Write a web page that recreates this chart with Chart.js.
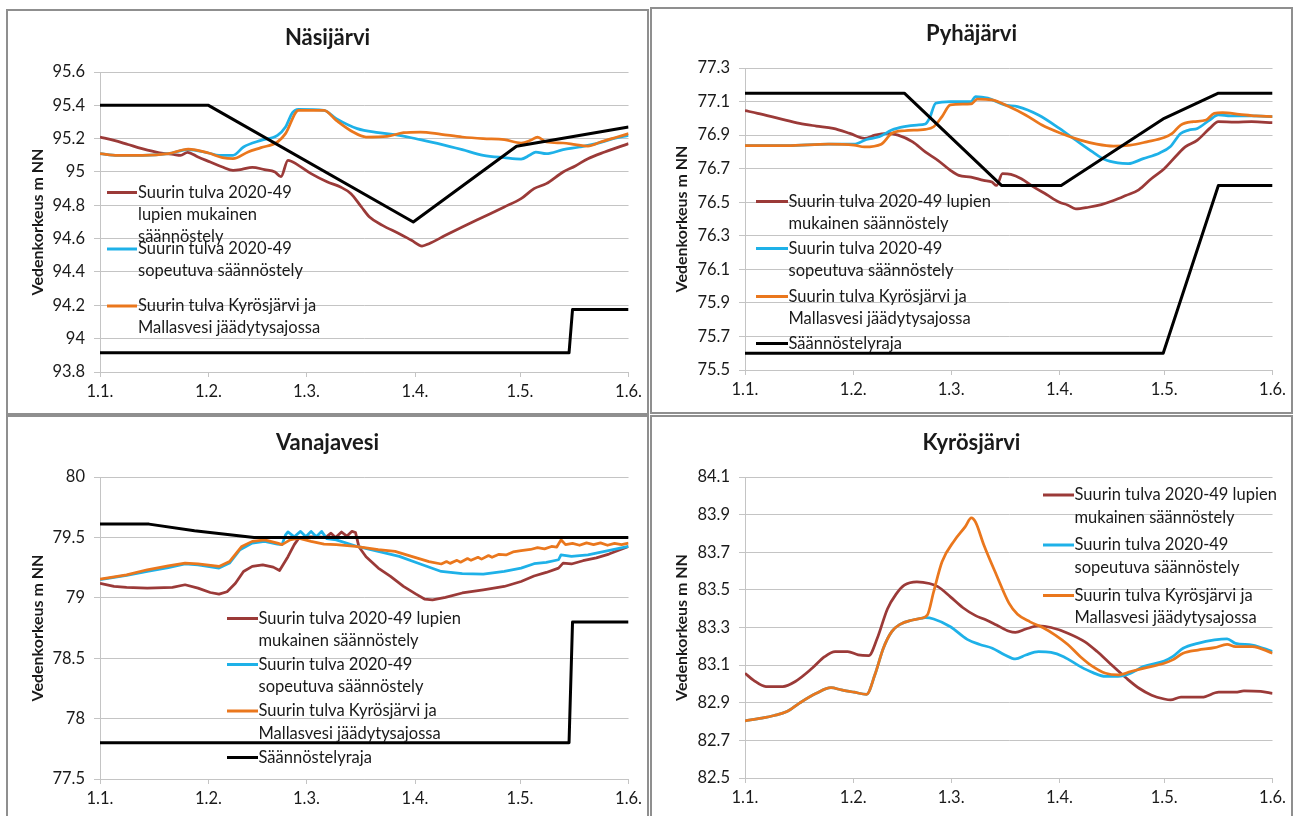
<!DOCTYPE html>
<html>
<head>
<meta charset="utf-8">
<script src="https://cdn.jsdelivr.net/npm/chart.js@4.4.1/dist/chart.umd.min.js"></script>
<style>
  html, body { margin: 0; padding: 0; background: #fff; width: 1298px; height: 816px; overflow: hidden; }
  .panel { position: absolute; box-sizing: border-box; border: 2px solid #8f8f8f; background: #fff; overflow: hidden; }
  .panel canvas { display: block; }
</style>
</head>
<body>
<div class="panel" style="left:6px;top:9px;width:643px;height:406px"><canvas id="c1" width="639" height="402"></canvas></div>
<div class="panel" style="left:650px;top:7px;width:643px;height:407px"><canvas id="c2" width="639" height="403"></canvas></div>
<div class="panel" style="left:6px;top:415px;width:643px;height:420px"><canvas id="c3" width="639" height="416"></canvas></div>
<div class="panel" style="left:650px;top:415px;width:643px;height:420px"><canvas id="c4" width="639" height="416"></canvas></div>
<script>
// Day of year (0 = 1 January) and water level (m NN)
const monthDays = [0, 31, 59, 90, 120, 151];
const monthLabels = ['1.1.', '1.2.', '1.3.', '1.4.', '1.5.', '1.6.'];

// Näsijärvi
const nasiTitle = 'Näsijärvi';
const nasiYTicks = [93.8, 94, 94.2, 94.4, 94.6, 94.8, 95, 95.2, 95.4, 95.6];
const nasiLupien = [[0,95.21],[4,95.19],[8,95.165],[12,95.14],[17,95.115],[21,95.105],[23,95.1],[25,95.118],[28,95.09],[31.5,95.06],[35,95.03],[38,95.01],[40.5,95.016],[43.5,95.028],[47,95.014],[50,95.0],[51.7,94.972],[53.7,95.07],[56.7,95.04],[60.3,94.99],[65,94.94],[68.7,94.91],[71.7,94.87],[74.7,94.79],[77,94.73],[80.7,94.68],[85.5,94.63],[89,94.59],[92,94.556],[94,94.57],[98.7,94.62],[103.5,94.67],[109.5,94.73],[115.5,94.79],[120.3,94.84],[124,94.9],[127.5,94.93],[132.3,95.0],[135.8,95.036],[139.4,95.08],[144.2,95.12],[151,95.17]];
const nasiSopeutuva = [[0,95.11],[5,95.1],[12,95.1],[19.5,95.11],[25.2,95.135],[31,95.114],[34,95.1],[38,95.1],[41,95.15],[46,95.19],[50.7,95.22],[53,95.27],[55,95.356],[56.7,95.376],[64,95.37],[67.5,95.32],[73.5,95.26],[79.5,95.236],[85.5,95.22],[91.5,95.194],[97.5,95.166],[103.5,95.134],[109.5,95.1],[115.5,95.086],[120.3,95.078],[122.7,95.1],[124.5,95.12],[127.5,95.11],[132.3,95.134],[137,95.15],[141.8,95.17],[146.6,95.2],[151,95.22]];
const nasiJaadytys = [[0,95.11],[5,95.1],[12.4,95.1],[19.5,95.11],[25.2,95.138],[31,95.114],[35,95.086],[38,95.08],[42.3,95.12],[46,95.146],[50.7,95.18],[53,95.23],[56.7,95.37],[64,95.37],[67.5,95.31],[72.3,95.24],[76,95.21],[82,95.214],[86.7,95.236],[91.5,95.24],[97.5,95.226],[103.5,95.21],[109.5,95.2],[115.5,95.194],[120.3,95.174],[123,95.19],[125,95.21],[127.5,95.18],[132.3,95.174],[135.8,95.164],[139.4,95.156],[143,95.18],[147.8,95.21],[151,95.23]];
const nasiUpperLimit = [[0,95.4],[31,95.4],[89.5,94.7],[119,95.155],[151,95.27]];
const nasiLowerLimit = [[0,93.915],[134,93.915],[135,94.175],[151,94.175]];

// Pyhäjärvi
const pyhaTitle = 'Pyhäjärvi';
const pyhaYTicks = [75.5, 75.7, 75.9, 76.1, 76.3, 76.5, 76.7, 76.9, 77.1, 77.3];
const pyhaLupien = [[0,77.046],[3.6,77.03],[9.6,77.0],[15.6,76.97],[20.4,76.954],[25.2,76.94],[30,76.91],[34.2,76.88],[37.2,76.9],[40.8,76.91],[43.8,76.9],[48,76.86],[51.6,76.8],[55.2,76.75],[58.8,76.69],[61.2,76.66],[64.7,76.65],[68.3,76.63],[70.7,76.62],[72,76.6],[73.7,76.67],[76.1,76.666],[79.1,76.64],[82.7,76.59],[86.3,76.546],[90,76.5],[92.3,76.484],[94.7,76.46],[98.3,76.47],[102,76.486],[105.5,76.51],[109,76.54],[112.7,76.574],[116.3,76.64],[120,76.7],[123.6,76.78],[126,76.83],[129.5,76.87],[133,76.94],[135.5,76.98],[140.3,76.978],[145,76.98],[151,76.974]];
const pyhaSopeutuva = [[0,76.838],[12,76.838],[24,76.846],[31.2,76.846],[34.8,76.874],[38.4,76.89],[42,76.93],[45.6,76.95],[49.2,76.96],[51.6,76.966],[52.8,77.0],[54.6,77.09],[58.8,77.1],[64.7,77.1],[66,77.13],[69.5,77.12],[74.3,77.08],[78,77.07],[84,77.02],[90,76.94],[94.7,76.87],[99.5,76.8],[103,76.754],[106.7,76.734],[109.7,76.73],[114,76.76],[118.7,76.794],[121.7,76.83],[124.7,76.91],[127,76.93],[129.5,76.94],[133,76.99],[135.5,77.02],[139,77.014],[145,77.014],[151,77.01]];
const pyhaJaadytys = [[0,76.838],[12,76.838],[24,76.846],[31.2,76.84],[34.2,76.83],[39,76.846],[42,76.91],[45.6,76.926],[51.6,76.934],[54,76.95],[56.4,77.01],[58.8,77.08],[64.7,77.086],[66.5,77.114],[70.7,77.11],[75.5,77.07],[80.3,77.02],[85,76.96],[90,76.914],[96,76.87],[100.7,76.846],[105.5,76.834],[110.3,76.84],[115,76.86],[120,76.886],[122.3,76.91],[124.7,76.96],[128.3,76.98],[132,76.99],[134.3,77.03],[136.7,77.034],[141.5,77.024],[146.3,77.014],[151,77.01]];
const pyhaUpperLimit = [[0,77.15],[45.6,77.15],[73.4,76.6],[90.5,76.6],[120,77.0],[135.5,77.15],[151,77.15]];
const pyhaLowerLimit = [[0,75.6],[119.7,75.6],[135.5,76.6],[151,76.6]];

// Vanajavesi
const vanaTitle = 'Vanajavesi';
const vanaYTicks = [77.5, 78, 78.5, 79, 79.5, 80];
const vanaLupien = [[0,79.12],[4,79.094],[7.6,79.086],[13.5,79.08],[20.7,79.086],[24.3,79.108],[28,79.08],[31.5,79.044],[34,79.03],[36.3,79.05],[38.7,79.12],[41,79.218],[43.5,79.26],[46.5,79.273],[49.5,79.254],[51.3,79.226],[53.7,79.34],[55.5,79.44],[56.7,79.49],[58.5,79.505],[62,79.505],[64.5,79.5],[66,79.535],[67.3,79.5],[69,79.545],[70.5,79.51],[72,79.55],[73,79.54],[74,79.42],[76,79.34],[79.5,79.246],[83,79.177],[86.7,79.094],[90.3,79.03],[92.7,78.99],[95,78.983],[98.7,79.003],[103.5,79.04],[109.5,79.066],[115.5,79.094],[120.3,79.135],[124,79.18],[127.5,79.21],[131,79.246],[132.3,79.287],[134.7,79.28],[138,79.307],[141.8,79.33],[145.4,79.362],[151,79.425]];
const vanaSopeutuva = [[0,79.15],[7.6,79.185],[13.5,79.218],[19.5,79.25],[24.3,79.28],[28,79.273],[34,79.246],[37,79.287],[40,79.398],[43.5,79.453],[47,79.467],[50.7,79.445],[52,79.44],[53,79.52],[53.7,79.545],[55.5,79.505],[57.3,79.55],[58.8,79.505],[60.3,79.55],[61.8,79.505],[63.3,79.55],[64.8,79.49],[67.5,79.48],[73.5,79.425],[79.5,79.384],[85.5,79.343],[91.5,79.28],[97.5,79.218],[103.5,79.2],[109.5,79.196],[115.5,79.218],[120.3,79.246],[124,79.282],[127.5,79.293],[131,79.315],[131.7,79.356],[134.7,79.343],[139.4,79.356],[144.2,79.384],[151,79.425]];
const vanaJaadytys = [[0,79.155],[7.6,79.19],[13.5,79.232],[19.5,79.265],[24.3,79.287],[28,79.28],[34,79.26],[37,79.3],[40.5,79.425],[43.5,79.467],[47,79.48],[50.7,79.453],[52,79.44],[54.3,79.48],[56.7,79.494],[60.3,79.467],[64,79.445],[67.5,79.44],[73,79.425],[79.5,79.398],[84.3,79.384],[89,79.343],[94,79.3],[97.5,79.28],[99,79.3],[100,79.285],[102,79.31],[103,79.295],[105,79.325],[106,79.31],[108,79.335],[109,79.32],[111,79.35],[112,79.335],[114,79.36],[116,79.355],[118,79.38],[120.3,79.39],[123,79.4],[125,79.415],[127,79.405],[129,79.425],[130.5,79.42],[131.7,79.48],[133,79.44],[135,79.45],[137,79.435],[139,79.455],[141,79.44],[143,79.455],[145,79.435],[147,79.45],[149,79.44],[151,79.453]];
const vanaUpperLimit = [[0,79.61],[14,79.61],[27,79.555],[44,79.5],[151,79.5]];
const vanaLowerLimit = [[0,77.8],[134,77.8],[135,78.8],[151,78.8]];

// Kyrösjärvi
const kyroTitle = 'Kyrösjärvi';
const kyroYTicks = [82.5, 82.7, 82.9, 83.1, 83.3, 83.5, 83.7, 83.9, 84.1];
const kyroLupien = [[0,83.057],[2.4,83.02],[6,82.986],[10.8,82.986],[14.4,83.013],[19.2,83.083],[22.8,83.145],[25.8,83.172],[29.4,83.172],[32.4,83.154],[35.4,83.15],[37.8,83.24],[40.8,83.4],[43.2,83.476],[45.6,83.525],[49.2,83.543],[52.8,83.534],[55.2,83.517],[58.8,83.463],[62.4,83.405],[66,83.363],[68.4,83.345],[72,83.313],[75.6,83.28],[77.4,83.274],[80.4,83.292],[84,83.308],[87.6,83.3],[92.4,83.27],[97.2,83.225],[100.8,83.172],[104.4,83.11],[109.2,83.03],[112.8,82.977],[116.4,82.94],[120,82.92],[121.8,82.915],[124.8,82.93],[130.8,82.93],[135.6,82.956],[140.4,82.956],[142.8,82.963],[147.6,82.96],[151,82.95]];
const kyroSopeutuva = [[0,82.804],[4.8,82.818],[8.4,82.832],[12,82.853],[15.6,82.898],[20.4,82.95],[24.6,82.98],[27.6,82.968],[31.2,82.956],[34.8,82.945],[37.2,83.05],[39.6,83.19],[42,83.278],[44.4,83.317],[48,83.34],[50.4,83.349],[51.6,83.352],[54,83.345],[58.8,83.304],[63.6,83.237],[67.2,83.21],[70.8,83.19],[74.4,83.154],[77.4,83.133],[80.4,83.154],[84,83.172],[87.6,83.168],[91.2,83.145],[96,83.092],[99.6,83.06],[103.2,83.04],[106.8,83.04],[110.4,83.057],[114,83.092],[120,83.122],[122.4,83.145],[125.4,83.19],[129.6,83.216],[134.4,83.234],[138,83.24],[140.4,83.216],[145.2,83.207],[151,83.172]];
const kyroJaadytys = [[0,82.804],[4.8,82.818],[8.4,82.832],[12,82.853],[15.6,82.898],[20.4,82.95],[24.6,82.98],[27.6,82.968],[31.2,82.956],[34.8,82.945],[37.2,83.05],[39.6,83.19],[42,83.278],[44.4,83.317],[48,83.34],[50.4,83.349],[52.2,83.366],[54,83.49],[56.4,83.65],[60,83.764],[63,83.835],[64.8,83.883],[66,83.86],[68.4,83.737],[72,83.578],[75.6,83.428],[78,83.37],[81.6,83.33],[85.2,83.3],[88.8,83.26],[92.4,83.21],[96,83.145],[99.6,83.092],[103.2,83.057],[106.8,83.048],[110.4,83.066],[114,83.083],[120,83.11],[122.4,83.128],[125.4,83.163],[129.6,83.18],[134.4,83.193],[138,83.21],[140.4,83.198],[145.2,83.198],[151,83.163]];

// Series names, split into the lines shown in each legend
const lupienNarrow = ['Suurin tulva 2020-49', 'lupien mukainen', 'säännöstely'];
const lupienWide = ['Suurin tulva 2020-49 lupien', 'mukainen säännöstely'];
const sopeutuvaLines = ['Suurin tulva 2020-49', 'sopeutuva säännöstely'];
const jaadytysLines = ['Suurin tulva Kyrösjärvi ja', 'Mallasvesi jäädytysajossa'];
const rajaLines = ['Säännöstelyraja'];
const yAxisTitle = 'Vedenkorkeus m NN';

const COLORS = { lupien: '#9b3a38', sopeutuva: '#1eb1e8', jaadytys: '#ea771d', raja: '#000000' };
const FONT = 'Lato, "Open Sans", sans-serif';
const TEXT = '#1a1a1a';
const GRID = '#c4c4c4';

// Title, rotated axis title and the in-plot legend
const panelDecor = {
  id: 'panelDecor',
  afterDraw(chart, args, opts) {
    const ctx = chart.ctx;
    const area = chart.chartArea;
    ctx.save();
    ctx.fillStyle = TEXT;
    ctx.textBaseline = 'middle';
    ctx.textAlign = 'center';
    ctx.font = 'bold 22px ' + FONT;
    ctx.fillText(opts.title, chart.width / 2, opts.titleY);

    ctx.save();
    ctx.translate(opts.yTitleX, (area.top + area.bottom) / 2);
    ctx.rotate(-Math.PI / 2);
    ctx.font = 'bold 16px ' + FONT;
    ctx.fillText(yAxisTitle, 0, 0);
    ctx.restore();

    ctx.textAlign = 'left';
    ctx.font = '16.5px ' + FONT;
    const lg = opts.legend;
    lg.entries.forEach((entry, i) => {
      const ds = chart.data.datasets[entry.dataset];
      const y0 = lg.rows[i];
      ctx.strokeStyle = ds.borderColor;
      ctx.lineWidth = 3;
      ctx.beginPath();
      ctx.moveTo(lg.sampleX0, y0);
      ctx.lineTo(lg.sampleX1, y0);
      ctx.stroke();
      entry.lines.forEach((line, k) => {
        ctx.fillText(line, lg.textX, y0 + k * lg.lineGap);
      });
    });
    ctx.restore();
  }
};

function toPoints(pairs) {
  return pairs.map(p => ({ x: p[0], y: p[1] }));
}

function series(label, pairs, color, order, width, smooth) {
  return {
    label: label,
    data: toPoints(pairs),
    borderColor: color,
    backgroundColor: color,
    borderWidth: width,
    pointRadius: 0,
    fill: false,
    order: order,
    tension: 0,
    cubicInterpolationMode: smooth ? 'monotone' : 'default',
    borderJoinStyle: 'round',
    borderCapStyle: 'butt'
  };
}

function buildChart(id, p) {
  const canvas = document.getElementById(id);
  const W = canvas.width, H = canvas.height;
  return new Chart(canvas, {
    type: 'line',
    data: { datasets: p.datasets },
    plugins: [panelDecor],
    options: {
      responsive: false,
      animation: false,
      events: [],
      layout: { padding: { left: 0, top: p.area.t, right: W - p.area.r, bottom: 0 } },
      plugins: {
        legend: { display: false },
        tooltip: { enabled: false },
        panelDecor: { title: p.title, titleY: p.titleY, yTitleX: 30, legend: p.legend }
      },
      scales: {
        x: {
          type: 'linear',
          min: 0,
          max: 151,
          afterBuildTicks: s => { s.ticks = monthDays.map(v => ({ value: v })); },
          afterFit: s => { s.height = H - p.area.b; },
          ticks: {
            autoSkip: false,
            maxRotation: 0,
            padding: 5,
            color: TEXT,
            font: { family: FONT, size: 16.5 },
            callback: v => monthLabels[monthDays.indexOf(v)]
          },
          grid: { drawOnChartArea: false, drawTicks: true, tickLength: 5, color: GRID, lineWidth: 1 },
          border: { display: true, color: GRID, width: 1 }
        },
        y: {
          type: 'linear',
          min: p.yTicks[0],
          max: p.yTicks[p.yTicks.length - 1],
          afterBuildTicks: s => { s.ticks = p.yTicks.map(v => ({ value: v })); },
          afterFit: s => { s.width = p.area.l; },
          ticks: {
            padding: 9,
            color: TEXT,
            font: { family: FONT, size: 16.5 },
            callback: v => String(Number(v.toFixed(2)))
          },
          grid: { drawTicks: true, tickLength: 6, color: GRID, lineWidth: 1 },
          border: { display: true, color: GRID, width: 1 }
        }
      }
    }
  });
}

const lupienLabel = lupienNarrow.join(' ');
const sopeutuvaLabel = sopeutuvaLines.join(' ');
const jaadytysLabel = jaadytysLines.join(' ');
const rajaLabel = rajaLines.join(' ');
const LW = 2.75;

buildChart('c1', {
  title: nasiTitle, titleY: 27, yTicks: nasiYTicks,
  area: { l: 92, r: 622, t: 61, b: 361 },
  datasets: [
    series(lupienLabel, nasiLupien, COLORS.lupien, 3, LW, true),
    series(sopeutuvaLabel, nasiSopeutuva, COLORS.sopeutuva, 2, LW, true),
    series(jaadytysLabel, nasiJaadytys, COLORS.jaadytys, 1, LW, true),
    series(rajaLabel, nasiUpperLimit, COLORS.raja, 0, 3, false),
    series(rajaLabel, nasiLowerLimit, COLORS.raja, 0, 3, false)
  ],
  legend: {
    sampleX0: 99, sampleX1: 129, textX: 130, lineGap: 22,
    rows: [181.5, 238, 295],
    entries: [
      { dataset: 0, lines: lupienNarrow },
      { dataset: 1, lines: sopeutuvaLines },
      { dataset: 2, lines: jaadytysLines }
    ]
  }
});

buildChart('c2', {
  title: pyhaTitle, titleY: 25, yTicks: pyhaYTicks,
  area: { l: 93, r: 625, t: 59, b: 361 },
  datasets: [
    series(lupienLabel, pyhaLupien, COLORS.lupien, 3, LW, true),
    series(sopeutuvaLabel, pyhaSopeutuva, COLORS.sopeutuva, 2, LW, true),
    series(jaadytysLabel, pyhaJaadytys, COLORS.jaadytys, 1, LW, true),
    series(rajaLabel, pyhaUpperLimit, COLORS.raja, 0, 3, false),
    series(rajaLabel, pyhaLowerLimit, COLORS.raja, 0, 3, false)
  ],
  legend: {
    sampleX0: 104, sampleX1: 136, textX: 136.5, lineGap: 22.5,
    rows: [192.5, 239.5, 287.5, 334.5],
    entries: [
      { dataset: 0, lines: lupienWide },
      { dataset: 1, lines: sopeutuvaLines },
      { dataset: 2, lines: jaadytysLines },
      { dataset: 3, lines: rajaLines }
    ]
  }
});

buildChart('c3', {
  title: vanaTitle, titleY: 26, yTicks: vanaYTicks,
  area: { l: 92, r: 621, t: 60, b: 362 },
  datasets: [
    series(lupienLabel, vanaLupien, COLORS.lupien, 3, LW, false),
    series(sopeutuvaLabel, vanaSopeutuva, COLORS.sopeutuva, 2, LW, false),
    series(jaadytysLabel, vanaJaadytys, COLORS.jaadytys, 1, LW, false),
    series(rajaLabel, vanaUpperLimit, COLORS.raja, 0, 3, false),
    series(rajaLabel, vanaLowerLimit, COLORS.raja, 0, 3, false)
  ],
  legend: {
    sampleX0: 219, sampleX1: 250, textX: 250.5, lineGap: 22.5,
    rows: [201.5, 247.5, 294, 340.5],
    entries: [
      { dataset: 0, lines: lupienWide },
      { dataset: 1, lines: sopeutuvaLines },
      { dataset: 2, lines: jaadytysLines },
      { dataset: 3, lines: rajaLines }
    ]
  }
});

buildChart('c4', {
  title: kyroTitle, titleY: 26, yTicks: kyroYTicks,
  area: { l: 93, r: 624, t: 60, b: 361 },
  datasets: [
    series(lupienLabel, kyroLupien, COLORS.lupien, 3, LW, true),
    series(sopeutuvaLabel, kyroSopeutuva, COLORS.sopeutuva, 2, LW, true),
    series(jaadytysLabel, kyroJaadytys, COLORS.jaadytys, 1, LW, true)
  ],
  legend: {
    sampleX0: 391, sampleX1: 422, textX: 422.5, lineGap: 22.5,
    rows: [78, 128, 178.5],
    entries: [
      { dataset: 0, lines: lupienWide },
      { dataset: 1, lines: sopeutuvaLines },
      { dataset: 2, lines: jaadytysLines }
    ]
  }
});
</script>
</body>
</html>
